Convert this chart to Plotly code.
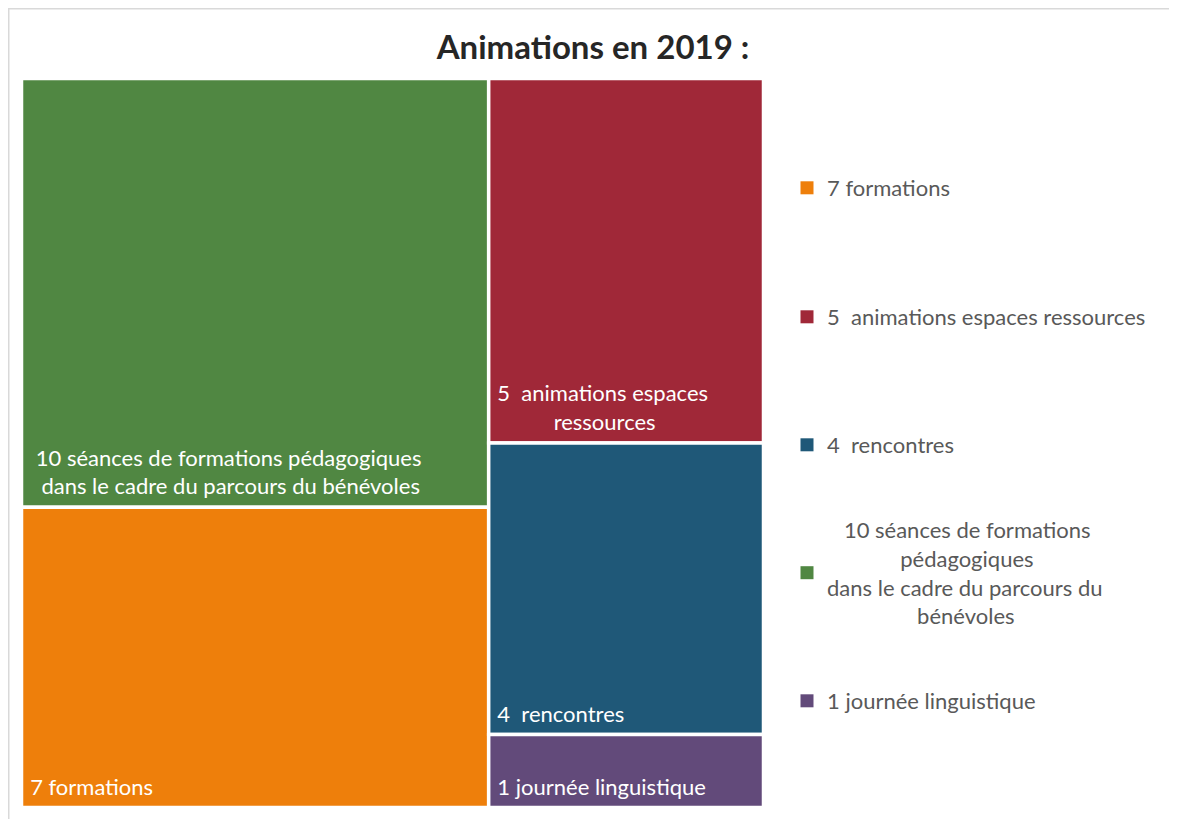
import plotly.graph_objects as go

# The page body has an 8px margin: the figure is drawn at (8, 8) in the window.
OFF = 8
W, H = 1177 - OFF, 819 - OFF
FONT = "Lato"
NB = "\u00a0"
TAIL = "<span style='font-size:48px'>" + NB + "</span>"

# ---- data ----
names = [
    "10 séances de formations pédagogiques dans le cadre du parcours du bénévoles",
    "7 formations",
    "5  animations espaces ressources",
    "4  rencontres",
    "1 journée linguistique",
]
values = [10, 7, 5, 4, 1]
colors = ["#508742", "#EE7F0B", "#A02838", "#1F5878", "#624A7A"]
tile_texts = [
    NB * 2 + "10 séances de formations pédagogiques<br>" + NB * 3 + "dans le cadre du parcours du bénévoles",
    NB + "7 formations",
    NB + "5" + NB * 2 + "animations espaces<br>" + NB * 11 + "ressources",
    NB + "4" + NB * 2 + "rencontres",
    NB + "1 journée linguistique",
]

legend_order = [1, 2, 3, 0, 4]
legend_texts = {
    1: "7 formations",
    2: "5" + NB * 2 + "animations espaces ressources",
    3: "4" + NB * 2 + "rencontres",
    0: NB * 3 + "10 séances de formations<br>" + NB * 13 + "pédagogiques<br>dans le cadre du parcours du<br>" + NB * 16 + "bénévoles",
    4: "1 journée linguistique",
}
legend_centers = [188, 317, 445, 573, 701]


def px(x):
    return (x - OFF) / W


def py(y):
    return 1 - (y - OFF) / H


fig = go.Figure()

fig.add_trace(go.Treemap(
    labels=names,
    parents=[""] * len(names),
    values=values,
    text=[t + TAIL for t in tile_texts],
    textinfo="text",
    textposition="bottom left",
    sort=True,
    marker=dict(colors=colors, line=dict(color="white", width=3.5),
                pad=dict(t=0, l=0, r=0, b=0)),
    tiling=dict(packing="squarify", squarifyratio=1, pad=0),
    pathbar=dict(visible=False),
    root=dict(color="white"),
    insidetextfont=dict(color="white", size=22, family=FONT),
    hoverinfo="label+value",
    domain=dict(x=[px(21.5), px(763.5)], y=[py(807.5), py(78.5)]),
))

for k, idx in enumerate(legend_order):
    lname = "legend" if k == 0 else f"legend{k + 1}"
    fig.add_trace(go.Scatter(
        x=[None], y=[None], mode="markers",
        marker=dict(symbol="square", size=13, color=colors[idx]),
        name=legend_texts[idx], legend=lname, showlegend=True,
        hoverinfo="skip",
    ))

layout_legends = {}
for k, yc in enumerate(legend_centers):
    lname = "legend" if k == 0 else f"legend{k + 1}"
    layout_legends[lname] = dict(
        x=px(787), y=py(yc), xanchor="left", yanchor="middle",
        font=dict(family=FONT, size=22, color="#595959"),
        bgcolor="rgba(0,0,0,0)", borderwidth=0,
    )

fig.update_layout(
    width=W, height=H,
    margin=dict(l=0, r=0, t=0, b=0),
    paper_bgcolor="white", plot_bgcolor="white",
    title=dict(text="<b>Animations en 2019 :</b>", x=px(593), xanchor="center",
               y=py(47), yanchor="middle", yref="container",
               font=dict(family=FONT, size=33, color="#262626")),
    xaxis=dict(visible=False), yaxis=dict(visible=False),
    shapes=[
        dict(type="line", xref="paper", yref="paper", x0=px(8), x1=px(1177), y0=py(8.75), y1=py(8.75),
             line=dict(color="#d9d9d9", width=1.5)),
        dict(type="line", xref="paper", yref="paper", x0=px(8.75), x1=px(8.75), y0=py(8), y1=py(819),
             line=dict(color="#d9d9d9", width=1.5)),
    ],
    **layout_legends,
)

fig.write_html("out.html")
